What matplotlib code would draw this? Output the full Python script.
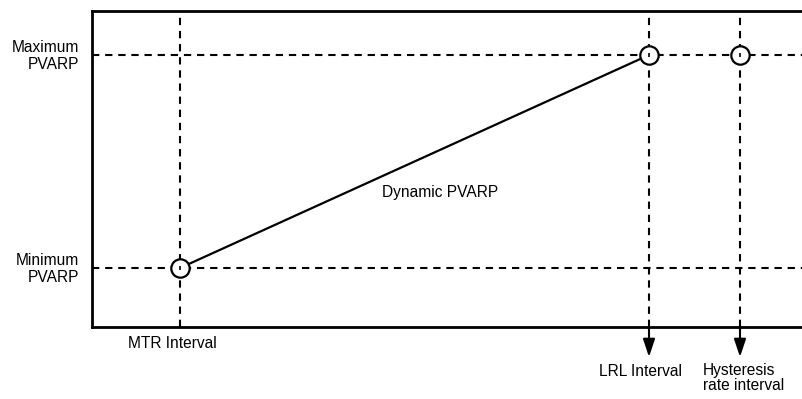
import matplotlib.pyplot as plt

plt.rcParams['font.family'] = ['Liberation Sans', 'DejaVu Sans']

# interval positions (arbitrary units along the x axis)
x_names = ['MTR Interval', 'LRL Interval', 'Hysteresis\nrate interval']
x_vals = [88, 557, 648]
# PVARP levels
y_names = ['Minimum\nPVARP', 'Maximum\nPVARP']
y_vals = [59, 272]
# dynamic PVARP line: from (MTR, min) to (LRL, max)
dyn_x = [88, 557]
dyn_y = [59, 272]
# circle markers
pt_x = [88, 557, 648]
pt_y = [59, 272, 272]

FS = 11.2

fig = plt.figure(figsize=(8.03, 3.99), dpi=100)
ax = fig.add_axes([92 / 803, (399 - 327) / 399, 711 / 803, 316 / 399])
ax.set_xlim(0, 711)
ax.set_ylim(0, 316)

for s in ['left', 'top', 'bottom']:
    ax.spines[s].set_linewidth(2.0)
ax.spines['right'].set_visible(False)
ax.set_xticks([]); ax.set_yticks([])

# dashed guides
for xv in x_vals:
    ax.axvline(xv, color='black', lw=1.5, ls=(0, (3.5, 2.8)), zorder=1)
for yv in y_vals:
    ax.axhline(yv, color='black', lw=1.5, ls=(0, (3.5, 2.8)), zorder=1)

ax.plot(dyn_x, dyn_y, color='black', lw=1.6, zorder=2)
ax.scatter(pt_x, pt_y, s=175, facecolors='white', edgecolors='black', linewidths=1.6, zorder=3)
ax.scatter(pt_x, pt_y, s=12, marker='|', color='black', linewidths=1.2, zorder=4)

ax.text(348, 134, 'Dynamic PVARP', ha='center', va='center', fontsize=FS)

# y labels
for name, yv in zip(y_names, y_vals):
    ax.text(-13, yv - 1, name, ha='right', va='center', fontsize=FS,
            multialignment='right', linespacing=1.12, clip_on=False)

# x labels
ax.text(x_vals[0] - 8, -16, x_names[0], ha='center', va='center', fontsize=FS, clip_on=False)
for xv in x_vals[1:]:
    ax.annotate('', xy=(xv, -30), xytext=(xv, 0), annotation_clip=False,
                arrowprops=dict(arrowstyle='-|>,head_length=0.6,head_width=0.2', color='black', lw=1.5,
                                mutation_scale=18, shrinkA=0, shrinkB=0))
ax.text(x_vals[1] - 8, -44, x_names[1], ha='center', va='center', fontsize=FS, clip_on=False)
ax.text(x_vals[2] - 37, -44, x_names[2].split('\n')[0], ha='left', va='center', fontsize=FS, clip_on=False)
ax.text(x_vals[2] - 37, -59, x_names[2].split('\n')[1], ha='left', va='center', fontsize=FS, clip_on=False)

fig.savefig('out.png', dpi=100)
